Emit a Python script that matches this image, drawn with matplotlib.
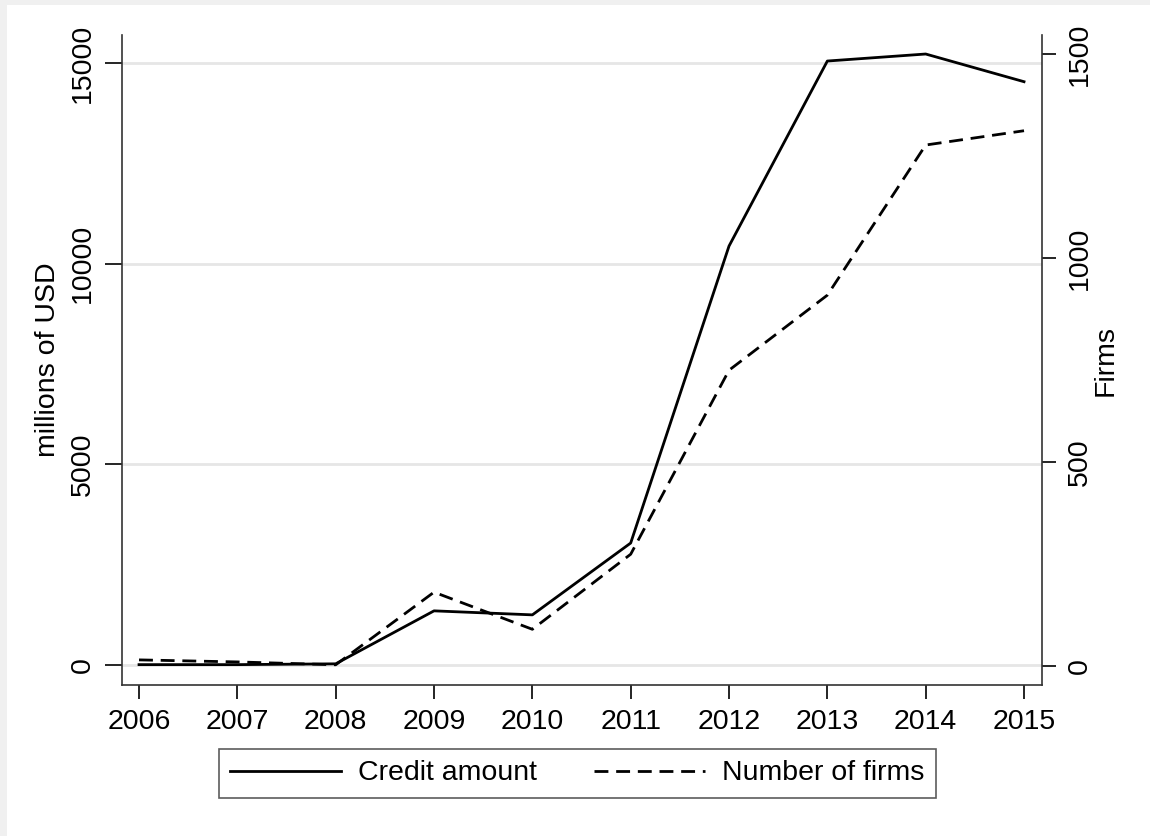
import matplotlib
matplotlib.use("Agg")
import matplotlib.pyplot as plt
from matplotlib.patches import Rectangle

years = [2006, 2007, 2008, 2009, 2010, 2011, 2012, 2013, 2014, 2015]
credit_amount = [10, 10, 30, 1350, 1250, 3040, 10440, 15050, 15225, 14535]
number_of_firms = [15, 10, 3, 181, 90, 274, 725, 909, 1277, 1312]

left_ticks = [0, 5000, 10000, 15000]
right_ticks = [0, 500, 1000, 1500]

plt.rcParams['font.family'] = ['Liberation Sans', 'DejaVu Sans']
FS = 20.5

fig = plt.figure(figsize=(11.5, 8.36), dpi=100)
fig.patch.set_facecolor('white')
# faint band along the top and left edges
fig.patches.append(Rectangle((0, 1 - 5 / 836), 1, 5 / 836, transform=fig.transFigure,
                             facecolor='#f0f0f0', edgecolor='none', zorder=0))
fig.patches.append(Rectangle((0, 0), 7 / 1150, 1, transform=fig.transFigure,
                             facecolor='#f0f0f0', edgecolor='none', zorder=0))

ax = fig.add_axes([0.1061, 0.1806, 0.8, 0.7775])
ax2 = ax.twinx()

ax.set_xlim(2005.827, 2015.183)
ax.set_ylim(-498, 15698)
ax2.set_ylim(-46.6, 1546.6)

for t in left_ticks:
    ax.axhline(t, color='#e6e6e6', linewidth=2, zorder=0)

l1, = ax.plot(years, credit_amount, color='black', linewidth=2.0, linestyle='-',
              label='Credit amount', zorder=3)
l2, = ax2.plot(years, number_of_firms, color='black', linewidth=2.0,
               linestyle=(0, (5, 2.8)), label='Number of firms', zorder=3)

ax.set_xticks(years)
ax.set_xticklabels([str(y) for y in years], fontsize=FS)
ax.set_yticks(left_ticks)
ax.set_yticklabels([str(t) for t in left_ticks], fontsize=FS, rotation=90, va='center')
ax2.set_yticks(right_ticks)
ax2.set_yticklabels([str(t) for t in right_ticks], fontsize=FS, rotation=90, va='center')

ax.tick_params(axis='x', length=10, width=1.2, pad=7)
ax.tick_params(axis='y', length=12, width=1.2, pad=7)
ax2.tick_params(axis='y', length=10, width=1.2, pad=8)

ax.set_ylabel('millions of USD', fontsize=FS, labelpad=6)
ax2.set_ylabel('Firms', fontsize=FS, labelpad=0, rotation=90)

for a in (ax, ax2):
    a.spines['top'].set_visible(False)
    for s in ('left', 'right', 'bottom'):
        a.spines[s].set_linewidth(1.2)
        a.spines[s].set_color('#333333')
ax2.spines['left'].set_visible(False)
ax2.spines['bottom'].set_visible(False)
ax.spines['right'].set_visible(False)

leg = fig.legend([l1, l2], ['Credit amount', 'Number of firms'],
                 loc='center', bbox_to_anchor=(0.502, 0.0748), ncol=2,
                 fontsize=FS, frameon=True, fancybox=False, edgecolor='#333333',
                 handlelength=3.9, handletextpad=0.6, columnspacing=2.0,
                 borderpad=0.4, borderaxespad=0)
leg.get_frame().set_linewidth(1.2)

fig.savefig('out.png', dpi=100, facecolor='white')
